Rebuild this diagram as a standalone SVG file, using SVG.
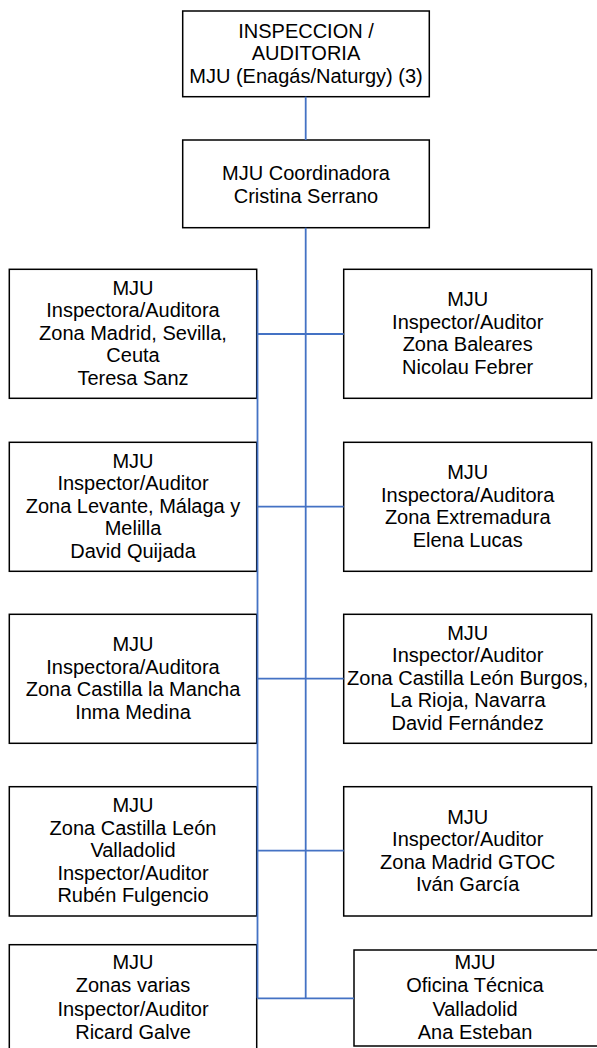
<svg xmlns="http://www.w3.org/2000/svg" width="597" height="1048" viewBox="0 0 597 1048">
<style>
.box{fill:#ffffff;stroke:#000000;stroke-width:1.5}
.t{font-family:"Liberation Sans",Arial,sans-serif;font-size:20px;fill:#000000;text-anchor:middle}
.c{stroke:#4472C4;stroke-width:1.8;fill:none}
</style>
<rect width="597" height="1048" fill="#ffffff"/>
<g id="n_top"><rect class="box" x="182.7" y="11" width="246.6" height="85.7"/>
<text class="t" y="37.5"><tspan x="306">INSPECCION /</tspan><tspan x="306" dy="22.8">AUDITORIA</tspan><tspan x="306" dy="22.8">MJU (Enagás/Naturgy) (3)</tspan></text></g>
<g id="n_coord"><rect class="box" x="182.7" y="140" width="246.6" height="87.7"/>
<text class="t" y="180"><tspan x="306">MJU Coordinadora</tspan><tspan x="306" dy="23">Cristina Serrano</tspan></text></g>
<g id="n_l1"><rect class="box" x="9.3" y="269.3" width="247.4" height="129"/>
<text class="t" y="294.8"><tspan x="133">MJU</tspan><tspan x="133" dy="22.5">Inspectora/Auditora</tspan><tspan x="133" dy="22.5">Zona Madrid, Sevilla,</tspan><tspan x="133" dy="22.5">Ceuta</tspan><tspan x="133" dy="22.5">Teresa Sanz</tspan></text></g>
<g id="n_r1"><rect class="box" x="343.7" y="269.3" width="248" height="129"/>
<text class="t" y="306"><tspan x="467.7">MJU</tspan><tspan x="467.7" dy="22.5">Inspector/Auditor</tspan><tspan x="467.7" dy="22.5">Zona Baleares</tspan><tspan x="467.7" dy="22.5">Nicolau Febrer</tspan></text></g>
<g id="n_l2"><rect class="box" x="9.3" y="442.3" width="247.4" height="129"/>
<text class="t" y="467.8"><tspan x="133">MJU</tspan><tspan x="133" dy="22.5">Inspector/Auditor</tspan><tspan x="133" dy="22.5">Zona Levante, Málaga y</tspan><tspan x="133" dy="22.5">Melilla</tspan><tspan x="133" dy="22.5">David Quijada</tspan></text></g>
<g id="n_r2"><rect class="box" x="343.7" y="442.3" width="248" height="129"/>
<text class="t" y="479"><tspan x="467.7">MJU</tspan><tspan x="467.7" dy="22.5">Inspectora/Auditora</tspan><tspan x="467.7" dy="22.5">Zona Extremadura</tspan><tspan x="467.7" dy="22.5">Elena Lucas</tspan></text></g>
<g id="n_l3"><rect class="box" x="9.3" y="614.3" width="247.4" height="129"/>
<text class="t" y="651"><tspan x="133">MJU</tspan><tspan x="133" dy="22.5">Inspectora/Auditora</tspan><tspan x="133" dy="22.5">Zona Castilla la Mancha</tspan><tspan x="133" dy="22.5">Inma Medina</tspan></text></g>
<g id="n_r3"><rect class="box" x="343.7" y="614.3" width="248" height="129"/>
<text class="t" y="639.8"><tspan x="467.7">MJU</tspan><tspan x="467.7" dy="22.5">Inspector/Auditor</tspan><tspan x="467.7" dy="22.5">Zona Castilla León Burgos,</tspan><tspan x="467.7" dy="22.5">La Rioja, Navarra</tspan><tspan x="467.7" dy="22.5">David Fernández</tspan></text></g>
<g id="n_l4"><rect class="box" x="9.3" y="786.7" width="247.4" height="129.3"/>
<text class="t" y="812.3"><tspan x="133">MJU</tspan><tspan x="133" dy="22.5">Zona Castilla León</tspan><tspan x="133" dy="22.5">Valladolid</tspan><tspan x="133" dy="22.5">Inspector/Auditor</tspan><tspan x="133" dy="22.5">Rubén Fulgencio</tspan></text></g>
<g id="n_r4"><rect class="box" x="343.7" y="786.7" width="248" height="129.3"/>
<text class="t" y="823.5"><tspan x="467.7">MJU</tspan><tspan x="467.7" dy="22.5">Inspector/Auditor</tspan><tspan x="467.7" dy="22.5">Zona Madrid GTOC</tspan><tspan x="467.7" dy="22.5">Iván García</tspan></text></g>
<g id="n_l5"><rect class="box" x="9.3" y="944.7" width="247.4" height="107"/>
<text class="t" y="968.5"><tspan x="133">MJU</tspan><tspan x="133" dy="23.5">Zonas varias</tspan><tspan x="133" dy="23.5">Inspector/Auditor</tspan><tspan x="133" dy="23.5">Ricard Galve</tspan></text></g>
<g id="n_r5"><rect class="box" x="354" y="950" width="246" height="96"/>
<text class="t" y="968.5"><tspan x="475">MJU</tspan><tspan x="475" dy="23.5">Oficina Técnica</tspan><tspan x="475" dy="23.5">Valladolid</tspan><tspan x="475" dy="23.5">Ana Esteban</tspan></text></g>
<g id="connectors">
<line class="c" x1="305.7" y1="96.7" x2="305.7" y2="140"/>
<line class="c" x1="305.7" y1="227.7" x2="305.7" y2="998.3"/>
<line class="c" x1="257.5" y1="280" x2="257.5" y2="998.3"/>
<line class="c" x1="257.5" y1="334" x2="343.7" y2="334"/>
<line class="c" x1="257.5" y1="506.7" x2="343.7" y2="506.7"/>
<line class="c" x1="257.5" y1="678.7" x2="343.7" y2="678.7"/>
<line class="c" x1="257.5" y1="850.7" x2="343.7" y2="850.7"/>
<line class="c" x1="257.5" y1="998.3" x2="354" y2="998.3"/>
</g>
</svg>
